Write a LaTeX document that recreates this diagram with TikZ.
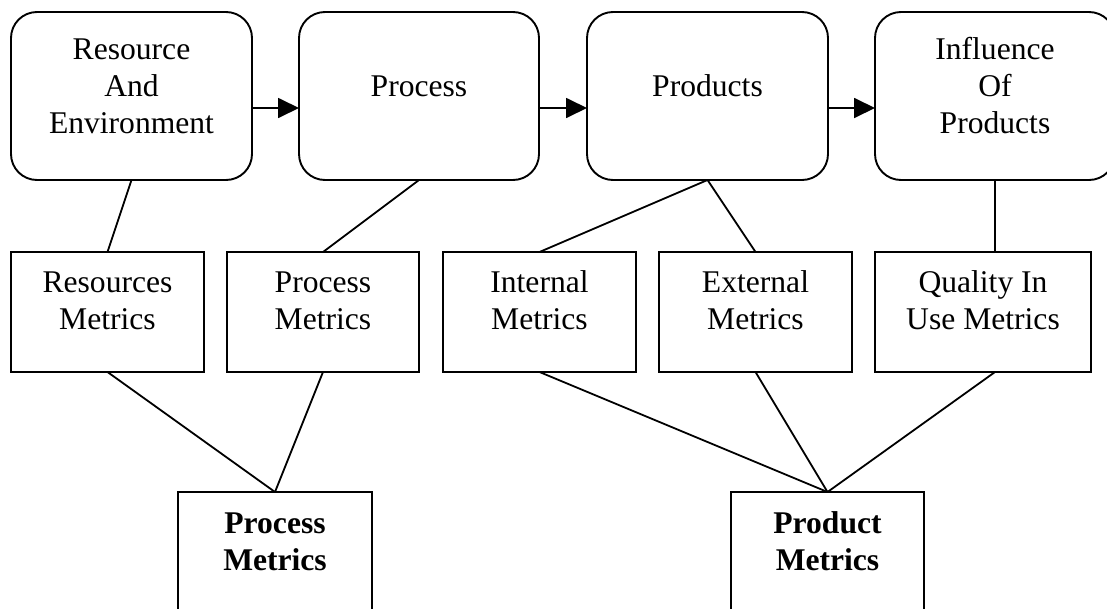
\documentclass[tikz,border=0pt]{standalone}
\usepackage{fontspec}
\setmainfont{Liberation Serif}
\usetikzlibrary{arrows.meta}
\begin{document}
\begin{tikzpicture}[x=1pt,y=-1pt,
  every node/.style={inner sep=0pt, outer sep=0pt},
  stage/.style={draw, line width=1.9pt, rounded corners=26pt, anchor=north west, minimum height=168pt},
  metric/.style={draw, line width=1.8pt, anchor=north west, minimum height=120pt},
  lbl/.style={anchor=base, align=center, font=\fontsize{31.6}{37}\selectfont},
  link/.style={line width=1.8pt},
  flow/.style={line width=1.8pt, -{Triangle[length=21pt,width=20pt]}}]
\useasboundingbox (0,0) rectangle (1107,608);

% stages of the life cycle
\node[stage, minimum width=241pt] (env)  at (11,12)  {};
\node[stage, minimum width=240pt] (proc) at (299,12) {};
\node[stage, minimum width=241pt] (prod) at (587,12) {};
\node[stage, minimum width=240pt] (inf)  at (875,12) {};

% labels are placed by the baseline of their last line
\node[lbl] (envT)  at (131.5,133) {Resource\\And\\Environment};
\node[lbl] (procT) at (419,96)    {Process};
\node[lbl] (prodT) at (707.5,96)  {Products};
\node[lbl] (infT)  at (995,133)   {Influence\\Of\\Products};

% metrics attached to each stage
\node[metric, minimum width=193pt] (rm) at (11,252)  {};
\node[metric, minimum width=192pt] (pm) at (227,252) {};
\node[metric, minimum width=193pt] (im) at (443,252) {};
\node[metric, minimum width=193pt] (xm) at (659,252) {};
\node[metric, minimum width=216pt] (qm) at (875,252) {};

\node[lbl] (rmT) at (107.5,329) {Resources\\Metrics};
\node[lbl] (pmT) at (323,329)   {Process\\Metrics};
\node[lbl] (imT) at (539.5,329) {Internal\\Metrics};
\node[lbl] (xmT) at (755.5,329) {External\\Metrics};
\node[lbl] (qmT) at (983,329)   {Quality In\\Use Metrics};

% summary groups
\node[metric, minimum width=194pt] (procM) at (178,492) {};
\node[metric, minimum width=193pt] (prodM) at (731,492) {};

\node[lbl, font=\fontsize{31.6}{37}\selectfont\bfseries] (procMT) at (275,570)   {Process\\Metrics};
\node[lbl, font=\fontsize{31.6}{37}\selectfont\bfseries] (prodMT) at (827.5,570) {Product\\Metrics};

% flow between stages
\coordinate (flowline) at (0,108);
\draw[flow] (env.east |- flowline)  -- (proc.west |- flowline);
\draw[flow] (proc.east |- flowline) -- (prod.west |- flowline);
\draw[flow] (prod.east |- flowline) -- (inf.west |- flowline);

% stage to metric links
\draw[link] (env.south)  -- (rm.north);
\draw[link] (proc.south) -- (pm.north);
\draw[link] (prod.south) -- (im.north);
\draw[link] (prod.south) -- (xm.north);
\draw[link] (inf.south)  -- (inf.south |- qm.north);

% metric to group links
\draw[link] (rm.south) -- (procM.north);
\draw[link] (pm.south) -- (procM.north);
\draw[link] (im.south) -- (prodM.north);
\draw[link] (xm.south) -- (prodM.north);
\draw[link] (inf.south |- qm.south) -- (prodM.north);
\end{tikzpicture}
\end{document}
